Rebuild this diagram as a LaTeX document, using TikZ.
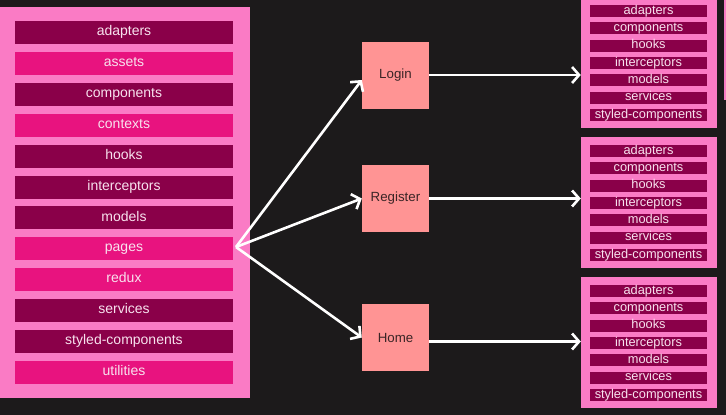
\documentclass[tikz,border=0pt]{standalone}
\usepackage{fontspec}
\setmainfont{Liberation Sans}
\usetikzlibrary{arrows.meta}
\definecolor{bg}{HTML}{1C1A1B}
\definecolor{cont}{HTML}{FA7BC5}
\definecolor{dk}{HTML}{8A0049}
\definecolor{br}{HTML}{E8137F}
\definecolor{salmon}{HTML}{FF9494}
\definecolor{bartext}{HTML}{F8E2EE}
\definecolor{boxtext}{HTML}{3A2526}
\tikzset{
  container/.style={fill=cont, draw=none, inner sep=0pt},
  lbar/.style={draw=none, inner sep=0pt, minimum width=218pt, minimum height=23pt, text=bartext, text height=1.55ex, text depth=0.35ex, font=\fontsize{14}{15}\selectfont},
  rbar/.style={fill=dk, draw=none, inner sep=0pt, minimum width=117pt, minimum height=12pt, text=bartext, text height=1.55ex, text depth=0.35ex, font=\fontsize{12.8}{13}\selectfont},
  page/.style={fill=salmon, draw=none, inner sep=0pt, minimum width=67pt, minimum height=67pt, text=boxtext, font=\fontsize{13.3}{15}\selectfont},
  arr/.style={draw=white, line width=2.6pt, -{Straight Barb[length=7pt,width=16pt,line width=2.6pt]}}
}
\begin{document}
\begin{tikzpicture}[x=1pt,y=-1pt]
\fill[bg] (0,0) rectangle (726,415);
\useasboundingbox (0,0) rectangle (726,415);
% left container
\node[container, minimum width=250pt, minimum height=391pt] (L) at (125,202.5) {};
\foreach \t/\c [count=\i] in {adapters/dk, assets/br, components/dk, contexts/br, hooks/dk, interceptors/dk, models/dk, pages/br, redux/br, services/dk, styled-components/dk, utilities/br}
  \node[lbar, fill=\c] (l\i) at (124, {32.5+30.9*(\i-1)}) {\t};
\coordinate (src) at (236,247);
% middle pages
\node[page] (login) at (395.5,75) {Login};
\node[page] (register) at (395.5,198.5) {Register};
\node[page] (home) at (395.5,337.5) {Home};
% right containers
\foreach \n/\cy in {1/62.5, 2/202.5, 3/342.5} {
  \node[container, minimum width=136pt, minimum height=131pt] (R\n) at (649,\cy) {};
  \foreach \t [count=\i] in {adapters, components, hooks, interceptors, models, services, styled-components}
    \node[rbar] (r\n-\i) at (648.5, {\cy-65.5+14+17.33*(\i-1)}) {\t};
}
\fill[cont] (724,0) rectangle (726,100);
% arrows
\draw[arr] (src) -- ([yshift=-5pt]login.west);
\draw[arr] (src) -- (register.west);
\draw[arr] (src) -- (home.west);
\draw[arr] (login.east) -- (login.east -| R1.west);
\draw[arr] (register.east) -- (register.east -| R2.west);
\draw[arr] ([yshift=-4pt]home.east) -- ([yshift=-4pt]home.east -| R3.west);
\end{tikzpicture}
\end{document}
